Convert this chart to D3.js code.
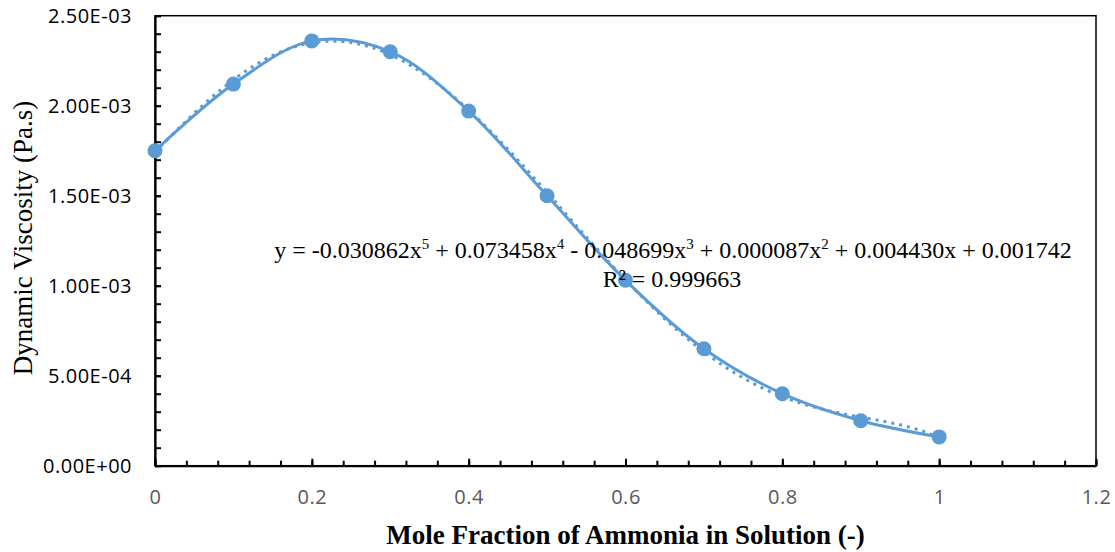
<!DOCTYPE html>
<html>
<head>
<meta charset="utf-8">
<script src="https://cdn.jsdelivr.net/npm/d3@7"></script>
<style>
  body { margin: 0; background: #fff; }
  svg { display: block; }
</style>
</head>
<body>
<svg width="1115" height="552"></svg>
<script>
// data
var moleFraction = [0, 0.1, 0.2, 0.3, 0.4, 0.5, 0.6, 0.7, 0.8, 0.9, 1.0]
var viscosity = [1.75e-3, 2.12e-3, 2.36e-3, 2.30e-3, 1.97e-3, 1.50e-3, 1.03e-3, 6.5e-4, 4.0e-4, 2.5e-4, 1.6e-4]
// polynomial trendline, highest power first (as printed on the chart)
var trendCoef = [-0.030862, 0.073458, -0.048699, 0.000087, 0.004430, 0.001742]
var rSquared = '0.999663'
var xTicks = [0, 0.2, 0.4, 0.6, 0.8, 1, 1.2]
var yTicks = [0, 5e-4, 1e-3, 1.5e-3, 2e-3, 2.5e-3]

var width = 1115
var height = 552
var margin = { top: 15.7, right: 19, bottom: 86.3, left: 155 }
var blue = '#5B9BD5'

var x = d3
  .scaleLinear()
  .domain([0, 1.2])
  .range([margin.left, width - margin.right])

var y = d3
  .scaleLinear()
  .domain([0, 2.5e-3])
  .range([height - margin.bottom, margin.top])

var svg = d3.select('svg')

// Excel-like scientific format: 2.50E-03
var sci = d => {
  var s = d.toExponential(2).toUpperCase()
  var parts = s.split('E')
  var exp = parseInt(parts[1], 10)
  var sign = exp < 0 ? '-' : '+'
  return parts[0] + 'E' + sign + String(Math.abs(exp)).padStart(2, '0')
}

// plot box
svg
  .append('rect')
  .attr('x', margin.left)
  .attr('y', margin.top)
  .attr('width', width - margin.right - margin.left)
  .attr('height', height - margin.bottom - margin.top)
  .attr('fill', 'none')
  .attr('stroke', '#000')
  .attr('stroke-width', 1.5)

// minor ticks
var xMinor = d3.range(0, 1.2001, 0.04)
var yMinor = d3.range(0, 2.5001e-3, 1e-4)

svg
  .append('g')
  .attr('transform', `translate(0,${height - margin.bottom})`)
  .call(d3.axisBottom(x).tickValues(xMinor).tickSizeInner(-5).tickSizeOuter(0).tickFormat(''))
  .call(g => g.select('.domain').remove())
  .call(g => g.selectAll('.tick line').attr('stroke', '#000').attr('stroke-width', 2))

svg
  .append('g')
  .attr('transform', `translate(${margin.left},0)`)
  .call(d3.axisLeft(y).tickValues(yMinor).tickSizeInner(-6).tickSizeOuter(0).tickFormat(''))
  .call(g => g.select('.domain').remove())
  .call(g => g.selectAll('.tick line').attr('stroke', '#000').attr('stroke-width', 2))

// main axes
svg
  .append('g')
  .attr('transform', `translate(0,${height - margin.bottom})`)
  .call(d3.axisBottom(x).tickValues(xTicks).tickSizeInner(-7).tickSizeOuter(0).tickPadding(24).tickFormat(d3.format('')))
  .call(g => g.select('.domain').attr('stroke', '#000').attr('stroke-width', 2.2))
  .call(g => g.selectAll('.tick line').attr('stroke', '#000').attr('stroke-width', 2))
  .call(g =>
    g
      .selectAll('.tick text')
      .attr('fill', '#595959')
      .attr('font-family', 'Open Sans')
      .attr('font-size', 20)
      .attr('letter-spacing', 0.5)
  )

svg
  .append('g')
  .attr('transform', `translate(${margin.left},0)`)
  .call(d3.axisLeft(y).tickValues(yTicks).tickSizeInner(-6).tickSizeOuter(0).tickPadding(23).tickFormat(sci))
  .call(g => g.select('.domain').attr('stroke', '#000').attr('stroke-width', 2.2))
  .call(g => g.selectAll('.tick line').attr('stroke', '#000').attr('stroke-width', 2))
  .call(g =>
    g
      .selectAll('.tick text')
      .attr('fill', '#000')
      .attr('font-family', 'Open Sans')
      .attr('font-size', 20)
      .attr('letter-spacing', 0.5)
      .attr('dy', '0.35em')
  )

// trendline from the printed coefficients
var poly = t => trendCoef.reduce((acc, c) => acc * t + c, 0)
var trendData = d3.range(0, 1.0001, 0.01).map(t => [t, poly(t)])

svg
  .append('path')
  .datum(trendData)
  .attr('fill', 'none')
  .attr('stroke', blue)
  .attr('stroke-width', 3)
  .attr('stroke-dasharray', '3 5')
  .attr('d', d3.line().x(d => x(d[0])).y(d => y(d[1])))

// smoothed data line
var points = moleFraction.map((m, i) => ({ m: m, v: viscosity[i] }))

svg
  .append('path')
  .datum(points)
  .attr('fill', 'none')
  .attr('stroke', blue)
  .attr('stroke-width', 3)
  .attr('d', d3.line().x(d => x(d.m)).y(d => y(d.v)).curve(d3.curveCatmullRom.alpha(0.5)))

svg
  .append('g')
  .selectAll('circle')
  .data(points)
  .enter()
  .append('circle')
  .attr('cx', d => x(d.m))
  .attr('cy', d => y(d.v))
  .attr('r', 7.5)
  .attr('fill', blue)

// trendline equation
var pow = [5, 4, 3, 2, 1, 0]
var eqParts = [{ t: 'y = ', sup: false }]
trendCoef.forEach((c, i) => {
  var num = Math.abs(c).toFixed(6)
  var lead = i === 0 ? (c < 0 ? '-' : '') : c < 0 ? ' - ' : ' + '
  var p = pow[i]
  eqParts.push({ t: lead + num + (p > 0 ? 'x' : ''), sup: false })
  if (p > 1) eqParts.push({ t: String(p), sup: true })
})

var eq = svg
  .append('text')
  .attr('x', 673)
  .attr('y', 258)
  .attr('text-anchor', 'middle')
  .attr('font-family', 'Liberation Serif')
  .attr('font-size', 24)
  .attr('fill', '#000')

var raised = false
eqParts.forEach(part => {
  var ts = eq.append('tspan').text(part.t)
  if (part.sup) {
    ts.attr('dy', -9).attr('font-size', 15)
    raised = true
  } else if (raised) {
    ts.attr('dy', 9)
    raised = false
  }
})

svg
  .append('text')
  .attr('x', 672)
  .attr('y', 287)
  .attr('text-anchor', 'middle')
  .attr('font-family', 'Liberation Serif')
  .attr('font-size', 24)
  .attr('fill', '#000')
  .text('R\u00b2 = ' + rSquared)

// axis titles
svg
  .append('text')
  .attr('transform', `translate(32,238) rotate(-90)`)
  .attr('text-anchor', 'middle')
  .attr('font-family', 'Liberation Serif')
  .attr('font-size', 27)
  .attr('fill', '#000')
  .text('Dynamic Viscosity (Pa.s)')

svg
  .append('text')
  .attr('x', (margin.left + width - margin.right) / 2)
  .attr('y', 544)
  .attr('text-anchor', 'middle')
  .attr('font-family', 'Liberation Serif')
  .attr('font-weight', 'bold')
  .attr('font-size', 27)
  .attr('fill', '#000')
  .text('Mole Fraction of Ammonia in Solution (-)')
</script>
</body>
</html>
